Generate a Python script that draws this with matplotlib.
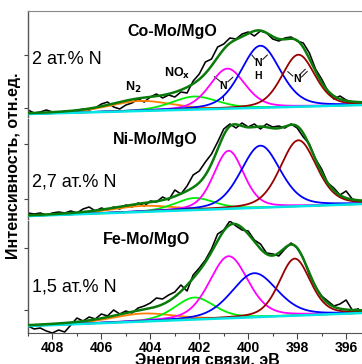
import numpy as np
import matplotlib
matplotlib.use('Agg')
import matplotlib.pyplot as plt
from matplotlib.ticker import MultipleLocator

plt.rcParams['font.family'] = ['Liberation Sans', 'DejaVu Sans']

# ---------------- data ----------------
energy = np.linspace(409.0, 395.5, 55)   # binding energy grid of the measured spectra, eV

co_spectrum = [7, 4, 5, 7, 5, 4, 6, 5, 6, 8,
               7, 9, 13, 15, 10, 8, 12, 14, 18, 15,
               20, 23, 19, 22, 20, 25, 24, 36, 43, 55,
               58, 70, 73, 79, 78, 83, 85, 81, 86, 84,
               78, 76, 79, 80, 76, 74, 64, 48, 38, 26,
               18, 21, 17, 14, 15]
ni_spectrum = [6, 5, 6, 4, 6, 7, 6, 8, 6, 10,
               12, 8, 11, 9, 12, 10, 14, 12, 16, 13,
               18, 17, 22, 19, 29, 25, 33, 44, 48, 57,
               65, 77, 90, 95, 91, 96, 92, 95, 90, 95,
               92, 93, 91, 95, 91, 82, 75, 60, 50, 36,
               31, 24, 28, 20, 18]
fe_spectrum = [7, 4, 5, 2, 0, 3, 1, 8, 15, 12,
               16, 14, 19, 17, 23, 19, 22, 20, 25, 27,
               30, 35, 34, 38, 41, 48, 42, 58, 65, 73,
               84, 99, 103, 112, 107, 103, 102, 93, 89, 80,
               79, 77, 84, 90, 85, 75, 58, 46, 37, 32,
               27, 29, 33, 23, 24]

samples = ['Co-Mo/MgO', 'Ni-Mo/MgO', 'Fe-Mo/MgO']
n_content = ['2 ат.% N', '2,7 ат.% N', '1,5 ат.% N']

# fitted components: N2, NOx, pyrrolic N, N-H, pyridinic N
component_colors = ['#ff8000', '#00ee00', '#ff00ff', '#0000ff', '#990000']

co_centers = [404.4, 402.2, 400.85, 399.5, 397.95]
co_heights = [10, 13, 40, 62, 52]
co_fwhm = [3.0, 2.2, 1.7, 1.9, 1.6]
co_background = [3, 12]          # at 409 eV and 395.3 eV

ni_centers = [404.3, 402.2, 400.8, 399.5, 397.95]
ni_heights = [6, 12, 58, 62, 66]
ni_fwhm = [3.0, 1.9, 1.45, 1.9, 1.75]
ni_background = [3, 15]

fe_centers = [404.3, 402.2, 400.8, 399.75, 398.1]
fe_heights = [8, 22, 62, 44, 57]
fe_fwhm = [3.0, 1.9, 1.86, 2.2, 1.5]
fe_background = [7, 20]

lorentz_fraction = 0.3
panel_heights = [106, 100, 112]
panel_yticks = [[9, 62], [20, 75], [23, 85]]

# --------------- helpers ---------------
def pseudo_voigt(x, c, a, w, m=lorentz_fraction):
    d = (x - c) / w
    return a * ((1 - m) * np.exp(-4 * np.log(2) * d ** 2) + m / (1 + 4 * d ** 2))

XMIN, XMAX = 409.0, 395.35
xfine = np.linspace(XMIN, XMAX, 500)

fig = plt.figure(figsize=(3.62, 3.64), dpi=100)
W, H = 362, 364
left_px, right_px = 28, 362
panel_px = [(11, 117), (119, 219), (221, 333)]

spectra = [co_spectrum, ni_spectrum, fe_spectrum]
centers = [co_centers, ni_centers, fe_centers]
heights = [co_heights, ni_heights, fe_heights]
fwhms = [co_fwhm, ni_fwhm, fe_fwhm]
backgrounds = [co_background, ni_background, fe_background]
title_x = [127, 113, 103]
title_y = [32, 140, 240]
content_y = [60, 182, 287]

axes = []
for i in range(3):
    top, bot = panel_px[i]
    ax = fig.add_axes([left_px / W, 1 - bot / H, (right_px - left_px) / W, (bot - top) / H])
    axes.append(ax)
    bg = backgrounds[i][0] + (backgrounds[i][1] - backgrounds[i][0]) * (XMIN - xfine) / (XMIN - XMAX)
    ax.plot(energy, spectra[i], color='black', lw=1.15, zorder=2)
    total = bg.copy()
    for c, a, w, col in zip(centers[i], heights[i], fwhms[i], component_colors):
        comp = pseudo_voigt(xfine, c, a, w)
        total += comp
        ax.plot(xfine, bg + comp, color=col, lw=1.3, zorder=3)
    ax.plot(xfine, bg, color='#00e5e5', lw=1.8, zorder=4)
    ax.plot(xfine, total, color='#0a7a0a', lw=1.8, zorder=5)

    ax.set_xlim(XMIN, XMAX)
    ax.set_ylim(0, panel_heights[i])
    ax.set_yticks(panel_yticks[i])
    ax.set_yticklabels([])
    ax.tick_params(axis='y', direction='out', length=3, width=0.8, color='#444444')
    for s in ['right', 'top', 'bottom']:
        ax.spines[s].set_visible(False)
    ax.spines['left'].set_color('#555555')
    ax.spines['left'].set_linewidth(1.0)
    ax.xaxis.set_major_locator(MultipleLocator(2))
    ax.xaxis.set_minor_locator(MultipleLocator(1))
    if i < 2:
        ax.tick_params(axis='x', which='both', bottom=False, labelbottom=False)
    else:
        ax.spines['bottom'].set_visible(True)
        ax.spines['bottom'].set_color('#555555')
        ax.tick_params(axis='x', which='major', direction='out', length=4, width=0.8,
                       labelsize=10, pad=1.5, color='#444444')
        ax.tick_params(axis='x', which='minor', direction='out', length=2.5, width=0.8, color='#444444')
        for lab in ax.get_xticklabels():
            lab.set_fontweight('bold')
    if i == 0:
        ax.spines['top'].set_visible(True)
        ax.spines['top'].set_color('#888888')
    ax.patch.set_alpha(0)

    ax.text((title_x[i] - left_px) / (right_px - left_px), (bot - title_y[i]) / (bot - top),
            samples[i], transform=ax.transAxes, ha='left', va='center',
            fontsize=11.5, fontweight='bold')
    ax.text(4 / (right_px - left_px), (bot - content_y[i]) / (bot - top),
            n_content[i], transform=ax.transAxes, ha='left', va='center', fontsize=13)

# annotations in the top panel
ax = axes[0]
ax.text(404.69, 30, 'N$_\\mathbf{2}$', ha='center', va='center', fontsize=9, fontweight='bold')
ax.text(402.9, 44, 'NO$_\\mathbf{x}$', ha='center', va='center', fontsize=9, fontweight='bold')
lk = dict(color='#222222', lw=0.8)
ax.text(401.03, 31, 'N', ha='center', va='center', fontsize=7.5, fontweight='bold')
ax.plot([401.38, 401.13], [40.3, 35.3], **lk)
ax.plot([400.83, 400.63], [35.3, 39.7], **lk)
ax.plot([401.03, 401.03], [22, 17], **lk)
ax.text(399.58, 53.7, 'N', ha='center', va='center', fontsize=7.5, fontweight='bold')
ax.text(399.58, 41, 'H', ha='center', va='center', fontsize=7.5, fontweight='bold')
ax.plot([399.85, 399.71], [62, 57.7], **lk)
ax.plot([399.40, 399.22], [57.7, 62], **lk)
ax.text(398.0, 37.7, 'N', ha='center', va='center', fontsize=7.5, fontweight='bold')
ax.plot([398.38, 398.18], [45.3, 41], **lk)
ax.plot([397.91, 397.67], [42, 47.7], **lk)
ax.plot([397.82, 397.59], [40, 45.5], **lk)

fig.text(14 / W, 1 - 166 / H, 'Интенсивность, отн.ед.', rotation=90, ha='center', va='center',
         fontsize=11.5, fontweight='bold')
fig.text(207 / W, 1 - 361 / H, 'Энергия связи, эВ', ha='center', va='center',
         fontsize=11.5, fontweight='bold')

fig.savefig('out.png', dpi=100)
